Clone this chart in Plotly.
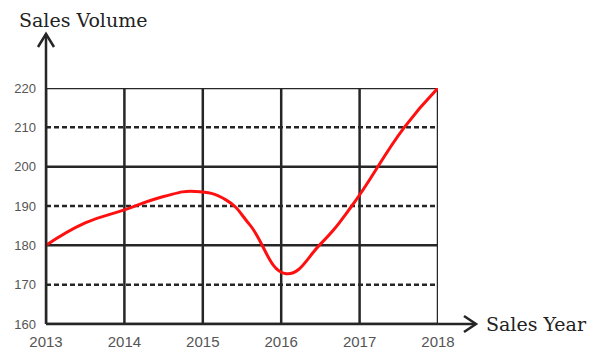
import plotly.graph_objects as go

# Data
years = [2013, 2014, 2015, 2016, 2017, 2018]
year_labels = ["2013", "2014", "2015", "2016", "2017", "2018"]
curve_x = [2013, 2013.5, 2014, 2014.5, 2014.9, 2015.3, 2015.6, 2016.06,
           2016.5, 2016.9, 2017.57, 2018]
curve_y = [180, 185.7, 189, 192.4, 193.7, 191.5, 185.2, 172.8,
           180.3, 190, 210, 220]
y_ticks = [160, 170, 180, 190, 200, 210, 220]
solid_levels = [160, 180, 200, 220]
dashed_levels = [170, 190, 210]

GRID = "#262626"
fig = go.Figure()
fig.add_trace(go.Scatter(
    x=curve_x, y=curve_y, mode="lines",
    line=dict(color="#ff1010", width=3, shape="spline", smoothing=1.3),
    hoverinfo="skip", showlegend=False))

shapes = []
for lv in dashed_levels:
    shapes.append(dict(type="line", xref="x", yref="y", x0=years[0], x1=years[-1], y0=lv, y1=lv,
                       line=dict(color=GRID, width=2.5, dash="5px,3px"), layer="below"))
for lv in solid_levels:
    shapes.append(dict(type="line", xref="x", yref="y", x0=years[0], x1=years[-1], y0=lv, y1=lv,
                       line=dict(color=GRID, width=2.5), layer="below"))
for yr in years:
    shapes.append(dict(type="line", xref="x", yref="y", x0=yr, x1=yr, y0=y_ticks[0], y1=y_ticks[-1],
                       line=dict(color=GRID, width=2.5), layer="below"))

# axis lines with arrows (paper coordinates)
L, R, T, B = 46, 438, 88, 324
pw, ph = float(R - L), float(B - T)
top = 1 + (T - 34) / ph
right = 1 + (476 - R) / pw
shapes.append(dict(type="line", xref="paper", yref="paper", x0=0, x1=0, y0=0, y1=top,
                   line=dict(color=GRID, width=2.5)))
shapes.append(dict(type="line", xref="paper", yref="paper", x0=0, x1=right, y0=0, y1=0,
                   line=dict(color=GRID, width=2.5)))
ax, ay = 8 / pw, 13 / ph
shapes.append(dict(type="path", xref="paper", yref="paper",
                   path=f"M {-ax} {top - ay} L 0 {top} L {ax} {top - ay}",
                   line=dict(color=GRID, width=2.5)))
bx, by = 12 / pw, 8 / ph
shapes.append(dict(type="path", xref="paper", yref="paper",
                   path=f"M {right - bx} {by} L {right} 0 L {right - bx} {-by}",
                   line=dict(color=GRID, width=2.5)))

fig.update_layout(
    width=594, height=354,
    margin=dict(l=L, r=594 - R, t=T, b=354 - B, autoexpand=False),
    paper_bgcolor="white", plot_bgcolor="white",
    shapes=shapes,
    xaxis=dict(range=[years[0], years[-1]], tickvals=years, ticktext=year_labels,
               showgrid=False, zeroline=False, showline=False, ticks="",
               ticklabelstandoff=7, automargin=False,
               tickfont=dict(family="Liberation Sans, Arial", size=15, color="#555")),
    yaxis=dict(range=[y_ticks[0], y_ticks[-1]], tickvals=y_ticks,
               showgrid=False, zeroline=False, showline=False, ticks="",
               ticklabelstandoff=9, automargin=False,
               tickfont=dict(family="Liberation Sans, Arial", size=13, color="#555")),
    annotations=[
        dict(text="Sales Volume", xref="paper", yref="paper", x=(17 - L) / pw, y=1 + (T - 20) / ph,
             xanchor="left", yanchor="middle", showarrow=False,
             font=dict(family="DejaVu Serif", size=19, color="#222")),
        dict(text="Sales Year", xref="paper", yref="paper", x=1 + (484 - R) / pw, y=0,
             xanchor="left", yanchor="middle", showarrow=False,
             font=dict(family="DejaVu Serif", size=19, color="#222")),
    ],
)
fig.write_html("out.html", config={"displayModeBar": False},
               post_script="document.body.style.margin='0';document.body.style.overflow='hidden';")
